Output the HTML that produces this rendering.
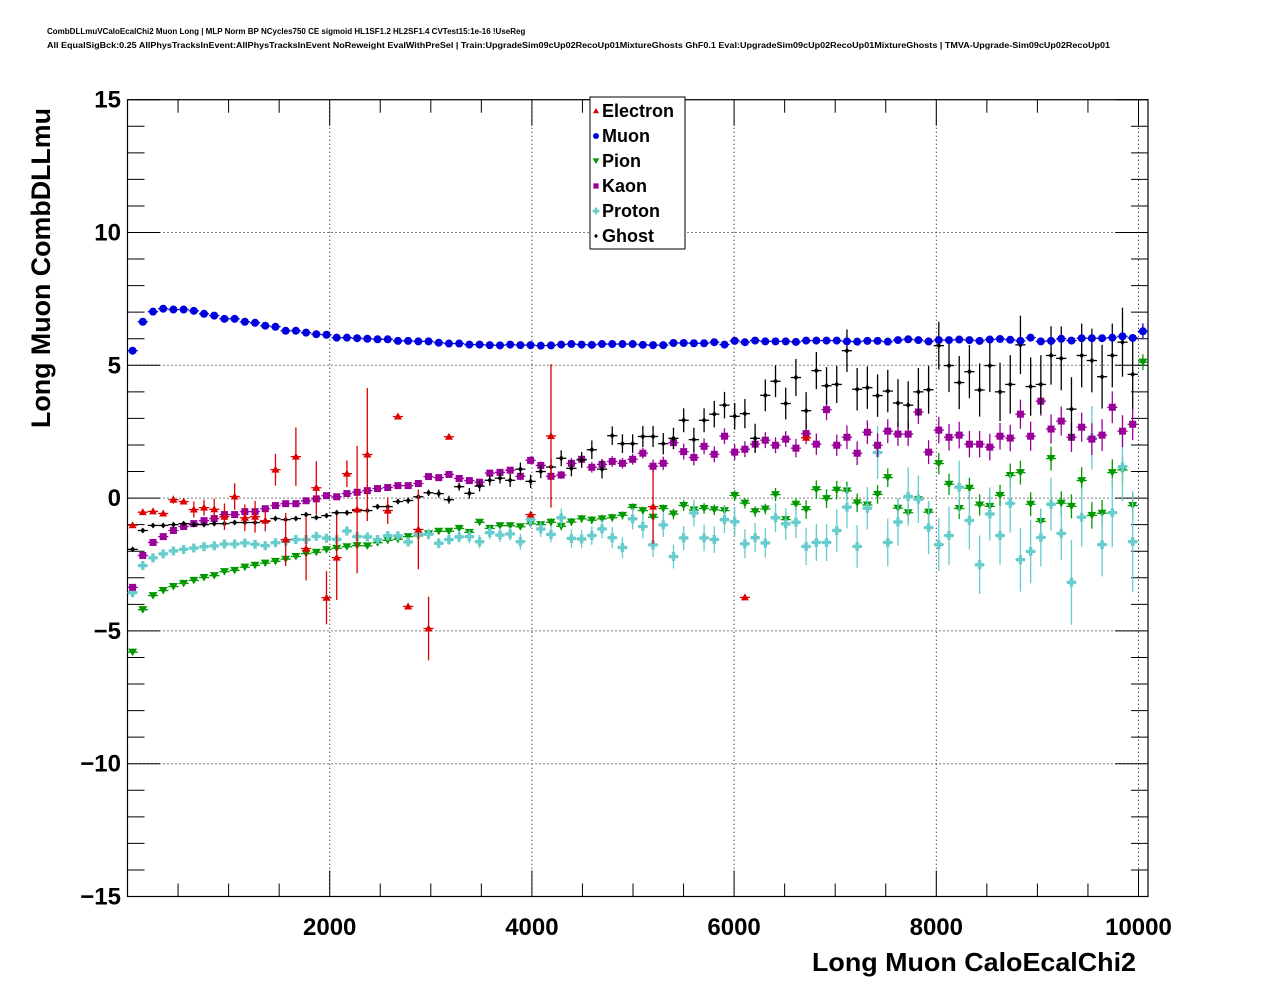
<!DOCTYPE html>
<html><head><meta charset="utf-8"><style>
html,body{margin:0;padding:0;background:#fff;}
svg{display:block;font-family:"Liberation Sans",Arial,sans-serif;}
</style></head><body>
<svg id="chart" width="1276" height="996" viewBox="0 0 1276 996" xmlns="http://www.w3.org/2000/svg">
<rect x="0" y="0" width="1276" height="996" fill="#fff"/>
<text x="47" y="34" font-size="8" font-weight="bold">CombDLLmuVCaloEcalChi2 Muon Long | MLP Norm BP NCycles750 CE sigmoid HL1SF1.2 HL2SF1.4 CVTest15:1e-16 !UseReg</text>
<text x="47" y="48" font-size="8" font-weight="bold" textLength="1063" lengthAdjust="spacingAndGlyphs">All EqualSigBck:0.25 AllPhysTracksInEvent:AllPhysTracksInEvent NoReweight EvalWithPreSel | Train:UpgradeSim09cUp02RecoUp01MixtureGhosts GhF0.1 Eval:UpgradeSim09cUp02RecoUp01MixtureGhosts | TMVA-Upgrade-Sim09cUp02RecoUp01</text>
<g id="grid"></g>
<g id="axes"></g>
<g id="series"></g>
<text transform="translate(50,268) rotate(-90)" text-anchor="middle" font-size="27" font-weight="bold" textLength="320" lengthAdjust="spacingAndGlyphs">Long Muon CombDLLmu</text>
<text x="1136" y="971" text-anchor="end" font-size="26" font-weight="bold" textLength="324" lengthAdjust="spacingAndGlyphs">Long Muon CaloEcalChi2</text>
<g id="legend"></g>
</svg>
<script>
const xTicks=[2000,4000,6000,8000,10000];
const yTicks=[-15,-10,-5,0,5,10,15];
const nBins=100;
const xMin=0,xMax=10094,yMin=-15,yMax=15;
const muon=[5.55,6.64,7.02,7.13,7.1,7.1,7.05,6.94,6.87,6.75,6.75,6.64,6.6,6.49,6.45,6.3,6.3,6.23,6.17,6.15,6.04,6.04,6.02,6.0,5.98,5.98,5.92,5.92,5.9,5.9,5.85,5.82,5.82,5.78,5.78,5.76,5.75,5.78,5.76,5.76,5.74,5.75,5.78,5.8,5.78,5.77,5.8,5.8,5.8,5.8,5.77,5.76,5.76,5.84,5.84,5.83,5.83,5.87,5.78,5.92,5.87,5.93,5.9,5.9,5.9,5.88,5.93,5.93,5.93,5.93,5.9,5.89,5.92,5.92,5.89,5.95,5.98,5.95,5.9,5.95,5.95,5.97,5.95,5.92,5.97,5.99,5.96,5.92,6.04,5.9,5.92,6.0,5.93,6.02,6.02,6.02,6.04,6.09,6.03,6.28];
const muonErr=[0.03,0.03,0.03,0.03,0.03,0.03,0.03,0.03,0.03,0.03,0.03,0.03,0.03,0.03,0.03,0.03,0.03,0.03,0.03,0.03,0.03,0.03,0.03,0.03,0.03,0.03,0.03,0.03,0.03,0.03,0.03,0.03,0.03,0.03,0.03,0.03,0.03,0.03,0.03,0.03,0.03,0.03,0.03,0.03,0.03,0.03,0.03,0.03,0.03,0.03,0.03,0.03,0.03,0.03,0.03,0.03,0.03,0.03,0.03,0.03,0.04,0.04,0.04,0.04,0.04,0.04,0.04,0.04,0.04,0.04,0.05,0.05,0.05,0.05,0.05,0.05,0.05,0.05,0.05,0.05,0.06,0.06,0.06,0.06,0.06,0.06,0.06,0.06,0.06,0.06,0.07,0.07,0.07,0.07,0.07,0.07,0.08,0.1,0.1,0.3];
const electronIdx=[0,1,2,3,4,5,6,7,8,9,10,11,12,13,14,15,16,17,18,19,20,21,22,23,25,26,27,28,29,31,39,41,51,60,66];
const electron=[-1.02,-0.53,-0.5,-0.58,-0.06,-0.13,-0.43,-0.36,-0.42,-0.7,0.06,-0.74,-0.7,-0.85,1.07,-1.56,1.56,-1.9,0.39,-3.75,-2.24,0.92,-0.43,1.64,-0.47,3.07,-4.08,-1.18,-4.91,2.31,-0.62,2.34,-0.32,-3.74,2.27];
const electronErr=[0.05,0.1,0.1,0.1,0.15,0.1,0.3,0.3,0.4,0.5,0.5,0.5,0.6,0.4,0.6,1.0,1.1,1.2,1.0,1.0,1.6,0.5,2.4,2.5,0.5,0.05,0.05,1.5,1.2,0.05,0.05,2.7,1.4,0.05,0.05];
const pion=[-5.8,-4.2,-3.67,-3.48,-3.33,-3.21,-3.1,-2.99,-2.92,-2.77,-2.72,-2.6,-2.53,-2.45,-2.38,-2.3,-2.2,-2.09,-2.04,-1.94,-1.89,-1.83,-1.79,-1.8,-1.68,-1.59,-1.55,-1.45,-1.42,-1.34,-1.25,-1.25,-1.14,-1.29,-0.91,-1.14,-1.04,-1.04,-1.08,-0.96,-1.0,-0.91,-1.06,-0.9,-0.78,-0.83,-0.78,-0.74,-0.65,-0.35,-0.47,-0.72,-0.39,-0.6,-0.28,-0.45,-0.39,-0.44,-0.47,0.1,-0.19,-0.51,-0.41,0.13,-0.81,-0.23,-0.43,0.32,-0.02,0.3,0.27,-0.18,-0.26,0.14,0.77,-0.38,-0.55,-0.06,-0.53,1.3,0.52,-0.39,0.37,-0.26,-0.31,0.1,0.85,0.96,-0.23,-0.88,1.49,-0.19,-0.31,0.66,-0.65,-0.57,0.96,1.06,-0.28,5.12];
const pionErr=[0.05,0.05,0.05,0.05,0.05,0.05,0.05,0.05,0.05,0.05,0.05,0.05,0.05,0.05,0.05,0.05,0.05,0.05,0.05,0.05,0.05,0.05,0.05,0.05,0.05,0.05,0.05,0.05,0.05,0.05,0.08,0.08,0.08,0.08,0.08,0.1,0.1,0.1,0.1,0.1,0.1,0.15,0.15,0.15,0.15,0.15,0.15,0.15,0.15,0.15,0.15,0.15,0.15,0.2,0.2,0.2,0.2,0.2,0.2,0.2,0.2,0.2,0.2,0.25,0.25,0.25,0.35,0.35,0.35,0.35,0.35,0.35,0.35,0.35,0.35,0.35,0.35,0.35,0.35,0.4,0.4,0.4,0.4,0.4,0.4,0.4,0.45,0.45,0.45,0.45,0.45,0.45,0.45,0.5,0.5,0.5,0.5,0.5,0.5,0.3];
const kaon=[-3.36,-2.16,-1.67,-1.45,-1.22,-1.07,-0.96,-0.85,-0.77,-0.62,-0.62,-0.51,-0.51,-0.4,-0.28,-0.21,-0.21,-0.1,-0.03,0.09,0.05,0.17,0.22,0.28,0.36,0.4,0.47,0.47,0.55,0.81,0.77,0.89,0.74,0.66,0.6,0.94,0.97,1.05,0.82,1.42,1.23,0.82,0.87,1.31,1.46,1.16,1.27,1.38,1.31,1.46,1.69,1.2,1.31,2.09,1.75,1.53,1.95,1.65,2.33,1.73,1.84,2.03,2.18,1.99,2.22,1.88,2.43,2.03,3.33,1.99,2.29,1.69,2.48,1.99,2.52,2.41,2.41,3.24,1.73,2.56,2.29,2.37,2.03,2.03,1.92,2.33,2.26,3.16,2.33,3.65,2.6,2.9,2.29,2.67,2.22,2.37,3.42,2.52,2.78,null];
const kaonErr=[0.05,0.05,0.05,0.05,0.05,0.05,0.05,0.05,0.05,0.05,0.05,0.05,0.05,0.05,0.05,0.05,0.05,0.05,0.05,0.05,0.05,0.05,0.05,0.05,0.05,0.05,0.05,0.05,0.05,0.05,0.08,0.1,0.1,0.1,0.12,0.12,0.12,0.12,0.15,0.15,0.15,0.15,0.15,0.2,0.2,0.2,0.2,0.2,0.2,0.2,0.2,0.25,0.25,0.25,0.3,0.3,0.3,0.3,0.3,0.3,0.3,0.3,0.3,0.3,0.3,0.35,0.4,0.4,0.4,0.4,0.45,0.45,0.45,0.45,0.45,0.45,0.45,0.45,0.45,0.5,0.5,0.5,0.5,0.5,0.5,0.5,0.5,0.55,0.55,0.55,0.55,0.55,0.55,0.55,0.6,0.6,0.6,0.6,0.6,0];
const proton=[-3.56,-2.54,-2.25,-2.1,-1.99,-1.93,-1.88,-1.83,-1.8,-1.73,-1.73,-1.69,-1.74,-1.79,-1.68,-1.63,-1.56,-1.56,-1.44,-1.51,-1.55,-1.24,-1.45,-1.46,-1.56,-1.42,-1.42,-1.65,-1.36,-1.36,-1.7,-1.56,-1.46,-1.45,-1.64,-1.3,-1.39,-1.35,-1.64,-0.81,-1.16,-1.37,-0.74,-1.52,-1.54,-1.41,-1.16,-1.49,-1.86,-0.78,-1.07,-1.76,-1.01,-2.2,-1.5,-0.56,-1.5,-1.56,-0.81,-0.89,-1.72,-1.49,-1.69,-0.74,-0.97,-0.91,-1.82,-1.67,-1.67,-1.22,-0.34,-1.82,-0.38,1.72,-1.67,-0.9,0.06,-0.04,-1.11,-1.75,-1.41,0.41,-0.84,-2.51,-0.6,-1.41,-0.2,-2.32,-2.01,-1.48,-0.23,-1.33,-3.17,-0.72,2.27,-1.75,-0.55,1.18,-1.64,null];
const protonErr=[0.08,0.08,0.08,0.08,0.08,0.08,0.08,0.08,0.08,0.08,0.1,0.1,0.1,0.1,0.1,0.12,0.12,0.12,0.12,0.15,0.15,0.15,0.15,0.15,0.15,0.18,0.18,0.18,0.2,0.2,0.2,0.2,0.22,0.25,0.25,0.25,0.25,0.25,0.3,0.3,0.3,0.3,0.35,0.35,0.35,0.35,0.35,0.4,0.4,0.4,0.45,0.45,0.45,0.45,0.45,0.5,0.5,0.5,0.5,0.55,0.55,0.55,0.55,0.55,0.6,0.6,0.7,0.7,0.7,0.8,0.8,0.8,0.8,1.0,0.9,0.9,1.1,0.9,1.0,1.0,1.1,1.0,1.1,1.1,1.0,1.1,1.1,1.2,1.2,1.1,1.0,1.0,1.6,1.1,1.2,1.2,1.3,1.3,1.9,0];
const ghost=[-1.93,-1.22,-1.03,-1.03,-1.0,-0.96,-1.0,-1.0,-0.96,-0.96,-0.92,-0.92,-0.92,-0.88,-0.77,-0.81,-0.77,-0.62,-0.73,-0.66,-0.55,-0.55,-0.47,-0.47,-0.32,-0.32,-0.13,-0.09,0.05,0.2,0.17,-0.06,0.43,0.18,0.45,0.67,0.75,0.67,1.09,0.63,1.0,1.17,1.5,1.12,1.44,1.82,1.09,2.35,2.05,2.05,2.32,2.32,2.05,2.25,2.93,2.2,2.93,3.16,3.5,3.08,3.18,2.25,3.87,4.4,3.56,4.54,3.29,4.8,4.23,4.28,5.55,4.1,4.16,3.86,4.03,3.58,3.5,4.0,4.08,5.74,4.99,4.35,4.76,4.07,4.99,4.0,4.28,5.77,4.2,4.28,5.37,5.26,3.35,5.37,5.18,4.57,5.37,5.87,4.66,null];
const ghostErr=[0.05,0.05,0.05,0.05,0.05,0.05,0.05,0.05,0.05,0.05,0.05,0.05,0.05,0.05,0.06,0.06,0.06,0.07,0.07,0.07,0.1,0.1,0.1,0.1,0.1,0.1,0.1,0.12,0.12,0.12,0.15,0.15,0.15,0.2,0.2,0.2,0.2,0.25,0.25,0.25,0.25,0.3,0.3,0.3,0.3,0.35,0.35,0.35,0.35,0.35,0.4,0.4,0.4,0.4,0.45,0.45,0.45,0.5,0.5,0.5,0.55,0.55,0.6,0.6,0.6,0.7,0.7,0.7,0.7,0.7,0.8,0.8,0.8,0.8,0.8,0.9,0.9,0.9,0.9,0.9,1.0,1.0,1.0,1.0,1.0,1.1,1.1,1.1,1.1,1.1,1.1,1.2,1.2,1.2,1.2,1.2,1.2,1.3,1.3,0];
const legendLabels=["Electron","Muon","Pion","Kaon","Proton","Ghost"];
const legendColors=["#dd0000","#0000dd","#009900","#990099","#66cccc","#000000"];
const legendShapes=["tri-up","circle","tri-down","square","cross","diamond"];

const L=127.5,R=1148,T=99.7,B=896.5;
const NS="http://www.w3.org/2000/svg";
const binW=(xMax-xMin)/nBins;
function xs(v){return L+(v-xMin)/(xMax-xMin)*(R-L);}
function ys(v){return B-(v-yMin)/(yMax-yMin)*(B-T);}
function binX(i){return xs(xMin+(i+0.5)*binW);}
function mk(tag,attrs,parent){const e=document.createElementNS(NS,tag);for(const k in attrs)e.setAttribute(k,attrs[k]);parent.appendChild(e);return e;}

const grid=document.getElementById('grid'),axes=document.getElementById('axes'),series=document.getElementById('series'),legend=document.getElementById('legend');
xTicks.forEach(t=>{const l=mk('line',{x1:xs(t),x2:xs(t),y1:T,y2:B,stroke:'#000','stroke-width':1,'stroke-dasharray':'1,3'},grid);

});
yTicks.forEach(t=>{const l=mk('line',{x1:L,x2:R,y1:ys(t),y2:ys(t),stroke:'#000','stroke-width':1,'stroke-dasharray':'1,3'},grid);

});
const fr=mk('rect',{x:L,y:T,width:R-L,height:B-T,fill:'none',stroke:'#000','stroke-width':1.2},axes);


for(let v=500;v<=xMax;v+=500){const maj=v%2000===0;const len=maj?26:13;
mk('line',{x1:xs(v),x2:xs(v),y1:B,y2:B-len,stroke:'#000','stroke-width':1},axes);
mk('line',{x1:xs(v),x2:xs(v),y1:T,y2:T+len,stroke:'#000','stroke-width':1},axes);}
xTicks.forEach(t=>{const tx=mk('text',{x:xs(t),y:935,'text-anchor':'middle','font-size':24,'font-weight':'bold'},axes);tx.textContent=t;

});
for(let v=yMin;v<=yMax;v+=1){const maj=v%5===0;const len=maj?33:17;
mk('line',{x1:L,x2:L+len,y1:ys(v),y2:ys(v),stroke:'#000','stroke-width':1},axes);
mk('line',{x1:R,x2:R-len,y1:ys(v),y2:ys(v),stroke:'#000','stroke-width':1},axes);}
yTicks.forEach(t=>{const tx=mk('text',{x:121,y:ys(t)+8,'text-anchor':'end','font-size':24,'font-weight':'bold'},axes);tx.textContent=(t<0?'\u2212'+(-t):String(t));

});

function marker(shape,cx,cy,col,s,parent){
 if(shape==='circle')return mk('circle',{cx:cx,cy:cy,r:4*s,fill:col},parent);
 if(shape==='square')return mk('rect',{x:cx-3.5*s,y:cy-3.5*s,width:7*s,height:7*s,fill:col},parent);
 if(shape==='tri-up')return mk('polygon',{points:`${cx},${cy-4*s} ${cx-4*s},${cy+3*s} ${cx+4*s},${cy+3*s}`,fill:col},parent);
 if(shape==='tri-down')return mk('polygon',{points:`${cx},${cy+4*s} ${cx-4.5*s},${cy-3.5*s} ${cx+4.5*s},${cy-3.5*s}`,fill:col},parent);
 if(shape==='diamond')return mk('polygon',{points:`${cx},${cy-3*s} ${cx+2.5*s},${cy} ${cx},${cy+3*s} ${cx-2.5*s},${cy}`,fill:col},parent);
 if(shape==='cross'){const a=1.7*s,b=4.5*s;return mk('polygon',{points:`${cx-a},${cy-b} ${cx+a},${cy-b} ${cx+a},${cy-a} ${cx+b},${cy-a} ${cx+b},${cy+a} ${cx+a},${cy+a} ${cx+a},${cy+b} ${cx-a},${cy+b} ${cx-a},${cy+a} ${cx-b},${cy+a} ${cx-b},${cy-a} ${cx-a},${cy-a}`,fill:col},parent);}
}
function drawSeries(name,idx,vals,errs,col,shape,size){
 const g=mk('g',{},series);
 
 
 vals.forEach((v,k)=>{if(v===null||v===undefined)return;const i=idx?idx[k]:k;const cx=binX(i),cy=ys(v),e=errs[k]||0;
  const half=(xs(binW)-xs(0))/2;
  mk('line',{x1:cx-half,x2:cx+half,y1:cy,y2:cy,stroke:col,'stroke-width':1.3},g);
  if(e>0)mk('line',{x1:cx,x2:cx,y1:ys(v+e),y2:ys(v-e),stroke:col,'stroke-width':1.3},g);
  const m=marker(shape,cx,cy,col,size,g);
  
  
 });
}
drawSeries('pion',null,pion,pionErr,legendColors[2],'tri-down',1);
drawSeries('proton',null,proton,protonErr,legendColors[4],'cross',1);
drawSeries('kaon',null,kaon,kaonErr,legendColors[3],'square',1);
drawSeries('ghost',null,ghost,ghostErr,legendColors[5],'diamond',1);
drawSeries('muon',null,muon,muonErr,legendColors[1],'circle',1);
drawSeries('electron',electronIdx,electron,electronErr,legendColors[0],'tri-up',1);

const lb=mk('rect',{x:590,y:97,width:95,height:152,fill:'#fff',stroke:'#000','stroke-width':1},legend);


legendLabels.forEach((lab,k)=>{const y=111+k*25;
 const g=mk('g',{},legend);
 
 
 marker(legendShapes[k],596,y,legendColors[k],0.75,g);
 const t=mk('text',{x:602,y:y+6,'font-size':18,'font-weight':'bold'},g);t.textContent=lab;
});
</script>
</body></html>
